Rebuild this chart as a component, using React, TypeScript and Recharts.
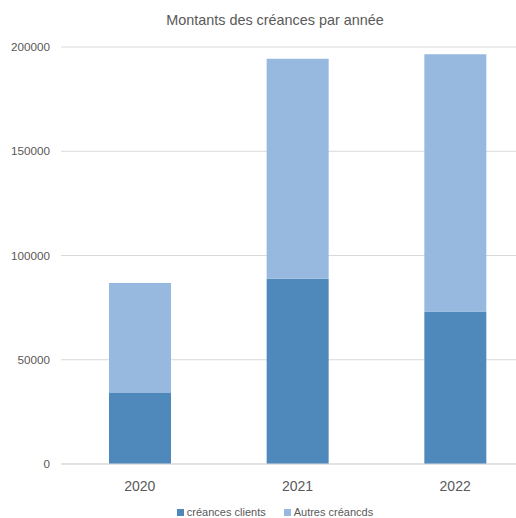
import React from 'react';
import { BarChart, Bar, XAxis, YAxis, CartesianGrid, Legend } from 'recharts';

// Values
const years = ['2020', '2021', '2022'];
const creancesClients = [34000, 88900, 73100];
const autresCreances = [52800, 105500, 123400];
const yTicks = [0, 50000, 100000, 150000, 200000];
const seriesOrder = ['créances clients', 'Autres créancds'];

const data = years.map((year, i) => ({
  year,
  clients: creancesClients[i],
  autres: autresCreances[i],
}));

const TEXT = '#595959';
const GRID = '#D9D9D9';
const DARK = '#4F89BC';
const LIGHT = '#97B9E0';

// Legend drawn like the Excel one: small squares, grey text
const renderLegend = (props: any) => {
  const payload = [...(props.payload || [])].sort(
    (a: any, b: any) => seriesOrder.indexOf(a.value) - seriesOrder.indexOf(b.value)
  );
  return (
    <div style={{ display: 'flex', justifyContent: 'center', gap: 18, fontSize: 11, color: TEXT, lineHeight: '12px' }}>
      {payload.map((entry: any) => (
        <span key={entry.value} style={{ display: 'flex', alignItems: 'center' }}>
          <span style={{ width: 7, height: 7, background: entry.color, marginRight: 3, display: 'inline-block' }} />
          {entry.value}
        </span>
      ))}
    </div>
  );
};

export default function App() {
  return (
    <div style={{ position: 'absolute', left: 0, top: 0, width: 516, height: 518, background: '#fff', fontFamily: '"Liberation Sans", Arial, sans-serif' }}>
      <div style={{ position: 'absolute', left: 0, top: 12, width: 550, textAlign: 'center', fontSize: 14.4, color: TEXT }}>
        Montants des créances par année
      </div>
      <BarChart
        width={516}
        height={518}
        data={data}
        margin={{ top: 35, right: -18, left: 0, bottom: 0 }}
        barSize={62}
      >
        <CartesianGrid vertical={false} stroke={GRID} strokeWidth={1} />
        <XAxis
          dataKey="year"
          axisLine={{ stroke: GRID }}
          tickLine={false}
          tickSize={6}
          tickMargin={11}
          height={54}
          tick={{ fill: TEXT, fontSize: 14 }}
        />
        <YAxis
          domain={[0, 200000]}
          ticks={yTicks}
          width={61}
          axisLine={false}
          tickLine={false}
          tickMargin={5}
          interval={0}
          tick={{ fill: TEXT, fontSize: 11.7 }}
        />
        <Legend
          content={renderLegend}
          verticalAlign="top"
          wrapperStyle={{ top: 506, left: 0, width: 550 }}
        />
        <Bar dataKey="clients" name="créances clients" stackId="a" fill={DARK} isAnimationActive={false} />
        <Bar dataKey="autres" name="Autres créancds" stackId="a" fill={LIGHT} isAnimationActive={false} />
      </BarChart>
    </div>
  );
}
